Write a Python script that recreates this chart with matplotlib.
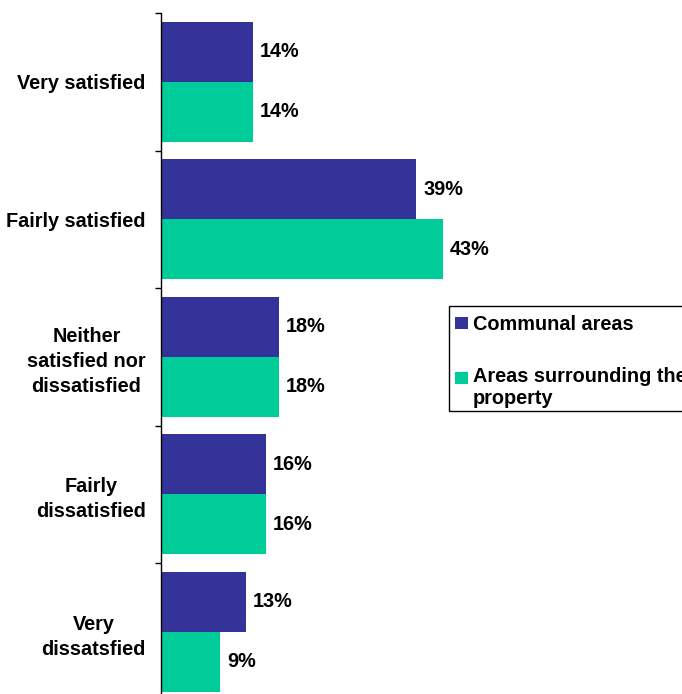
import matplotlib.pyplot as plt
from matplotlib.patches import Rectangle

plt.rcParams["font.family"] = ["Liberation Sans", "DejaVu Sans"]
plt.rcParams["font.weight"] = "bold"

CATEGORIES = [
    "Very satisfied",
    "Fairly satisfied",
    "Neither\nsatisfied nor\ndissatisfied",
    "Fairly\ndissatisfied",
    "Very\ndissatsfied",
]
COMMUNAL = [14, 39, 18, 16, 13]
SURROUNDING = [14, 43, 18, 16, 9]
SERIES_NAMES = ["Communal areas", "Areas surrounding the\nproperty"]
COLOURS = ["#333399", "#00CC99"]

W, H = 682, 694
FONT = 14.3


def fx(x):
    return x / W


def fy(y):
    return 1 - y / H


fig = plt.figure(figsize=(W / 100, H / 100), dpi=100)
# axes run off the bottom of the canvas, like the source chart
ax = fig.add_axes([fx(161), fy(700.5), (W - 161) / W, 687.5 / H])

bar_h = 0.436
ys = list(range(len(CATEGORIES)))
for vals, colour, shift in [(COMMUNAL, COLOURS[0], -bar_h / 2), (SURROUNDING, COLOURS[1], bar_h / 2)]:
    pos = [y + shift for y in ys]
    bars = ax.barh(pos, vals, height=bar_h, color=colour, linewidth=0)
    for y, v in zip(pos, vals):
        ax.annotate(f"{v}%", (v, y), xytext=(5, 0), textcoords="offset points",
                    ha="left", va="center", fontsize=FONT, fontweight="bold")

ax.set_xlim(0, 521 / 6.55)
ax.set_ylim(len(CATEGORIES) - 0.5, -0.5)

for side in ["top", "right", "bottom"]:
    ax.spines[side].set_visible(False)
ax.spines["left"].set_linewidth(1.0)
ax.set_xticks([])

ax.set_yticks([y - 0.5 for y in ys] + [len(ys) - 0.5])
ax.set_yticklabels([])
ax.tick_params(axis="y", which="major", length=4, width=1, direction="out")
ax.set_yticks(ys, minor=True)
ax.set_yticklabels(CATEGORIES, minor=True, fontsize=FONT, fontweight="bold",
                   multialignment="center", linespacing=1.4)
ax.tick_params(axis="y", which="minor", length=0, pad=11)

# legend box, partly cut off by the right edge
fig.patches.append(Rectangle((fx(449), fy(411)), (W + 20 - 449) / W, (411 - 306) / H,
                             transform=fig.transFigure, facecolor="white",
                             edgecolor="black", linewidth=1.0, figure=fig))
for colour, top in [(COLOURS[0], 317), (COLOURS[1], 372)]:
    fig.patches.append(Rectangle((fx(455), fy(top + 12)), 13 / W, 12 / H,
                                 transform=fig.transFigure, facecolor=colour,
                                 linewidth=0, figure=fig))
fig.text(fx(473), fy(330), SERIES_NAMES[0], fontsize=FONT, fontweight="bold", va="baseline")
fig.text(fx(473), fy(382), SERIES_NAMES[1].split("\n")[0], fontsize=FONT, fontweight="bold", va="baseline")
fig.text(fx(473), fy(404), SERIES_NAMES[1].split("\n")[1], fontsize=FONT, fontweight="bold", va="baseline")

fig.savefig("out.png", dpi=100)
